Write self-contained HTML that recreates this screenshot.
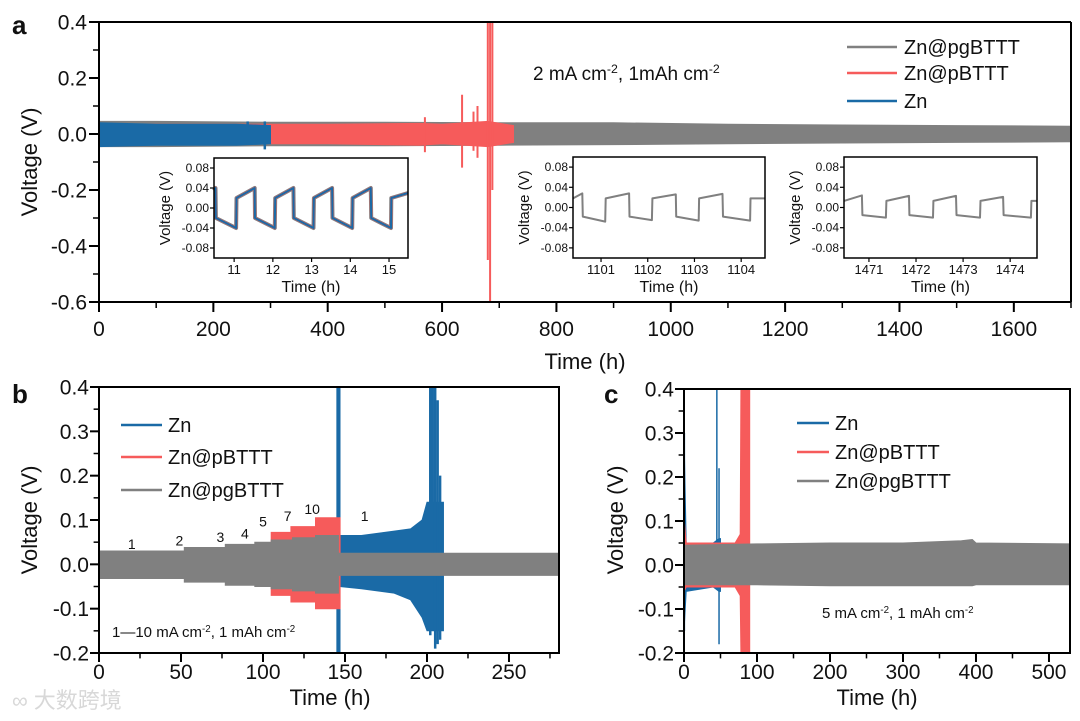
<!DOCTYPE html>
<html><head><meta charset="utf-8">
<style>
html,body{margin:0;padding:0;background:#fff;}
svg{display:block;font-family:"Liberation Sans","Noto Sans CJK SC",sans-serif;}
</style></head>
<body>
<svg id="fig" width="1080" height="721" viewBox="0 0 1080 721" xmlns="http://www.w3.org/2000/svg"></svg>
<script>
// ---------- Panel a data ----------
const aGrayT  = [0, 100, 300, 500, 700, 900, 1100, 1300, 1500, 1700];
const aGrayHi = [0.045, 0.045, 0.042, 0.042, 0.04, 0.04, 0.035, 0.032, 0.03, 0.028];
const aGrayLo = [-0.045, -0.045, -0.042, -0.042, -0.04, -0.038, -0.035, -0.032, -0.03, -0.028];
const aRedT  = [0, 200, 400, 560, 600, 680, 725];
const aRedHi = [0.035, 0.035, 0.035, 0.038, 0.035, 0.045, 0.03];
const aRedLo = [-0.035, -0.035, -0.035, -0.04, -0.035, -0.045, -0.03];
const aRedSpikeT  = [570, 635, 655, 662, 680, 684, 688];
const aRedSpikeHi = [0.06, 0.14, 0.08, 0.1, 0.4, 0.4, 0.4];
const aRedSpikeLo = [-0.065, -0.12, -0.06, -0.085, -0.45, -0.6, -0.2];
const aBlueT  = [0, 100, 240, 300];
const aBlueHi = [0.04, 0.035, 0.035, 0.03];
const aBlueLo = [-0.045, -0.04, -0.04, -0.035];
const aBlueSpikeT  = [220, 260, 290];
const aBlueSpikeHi = [0.03, 0.045, 0.045];
const aBlueSpikeLo = [-0.04, -0.035, -0.055];
const aXTicks = [0, 200, 400, 600, 800, 1000, 1200, 1400, 1600];
const aYTicks = [0.4, 0.2, 0.0, -0.2, -0.4, -0.6];
const aYLabels = ["0.4", "0.2", "0.0", "-0.2", "-0.4", "-0.6"];
// insets
const i1T = [10.48,10.52,10.53,11.05,11.06,11.53,11.54,12.05,12.06,12.53,12.54,13.05,13.06,13.53,13.54,14.05,14.06,14.53,14.54,15.05,15.06,15.49];
const i1V = [0.035,0.04,-0.02,-0.04,0.02,0.04,-0.02,-0.04,0.02,0.04,-0.02,-0.04,0.02,0.04,-0.02,-0.04,0.02,0.04,-0.02,-0.04,0.02,0.03];
const i2T = [1100.4,1100.6,1100.61,1101.09,1101.1,1101.6,1101.61,1102.09,1102.1,1102.6,1102.61,1103.09,1103.1,1103.6,1103.61,1104.19,1104.2,1104.51];
const i2V = [0.018,0.028,-0.018,-0.028,0.018,0.028,-0.018,-0.025,0.018,0.026,-0.018,-0.026,0.018,0.027,-0.018,-0.026,0.018,0.018];
const i3T = [1470.47,1470.85,1470.86,1471.36,1471.37,1471.85,1471.86,1472.36,1472.37,1472.85,1472.86,1473.36,1473.37,1473.85,1473.86,1474.44,1474.45,1474.57];
const i3V = [0.013,0.024,-0.015,-0.02,0.013,0.023,-0.015,-0.02,0.013,0.023,-0.015,-0.02,0.013,0.021,-0.015,-0.02,0.013,0.013];
const insetYTicks = [0.08, 0.04, 0.0, -0.04, -0.08];
const insetYLabels = ["0.08", "0.04", "0.00", "-0.04", "-0.08"];
const i1XTicks = [11, 12, 13, 14, 15];
const i2XTicks = [1101, 1102, 1103, 1104];
const i3XTicks = [1471, 1472, 1473, 1474];

// ---------- Panel b data ----------
const bGrayT  = [0,52,52,77,77,95,95,105,105,118,118,132,132,146,146,280.5];
const bGrayHi = [0.03,0.03,0.038,0.038,0.045,0.045,0.05,0.05,0.055,0.055,0.06,0.06,0.065,0.065,0.025,0.025];
const bGrayLo = [-0.032,-0.032,-0.04,-0.04,-0.047,-0.047,-0.05,-0.05,-0.055,-0.055,-0.06,-0.06,-0.065,-0.065,-0.025,-0.025];
const bRedT  = [105,105,117,117,132,132,147,147,280.5];
const bRedHi = [0.05,0.072,0.072,0.085,0.085,0.105,0.105,0.02,0.02];
const bRedLo = [-0.05,-0.07,-0.07,-0.085,-0.085,-0.1,-0.1,-0.02,-0.02];
const bBlueT  = [147,160,180,190,197,200,210];
const bBlueHi = [0.065,0.065,0.075,0.08,0.1,0.14,0.14];
const bBlueLo = [-0.05,-0.055,-0.065,-0.08,-0.12,-0.15,-0.15];
const bBlueSpikeT  = [145.5,146.5,202,203.5,205,206.5,208,209.5];
const bBlueSpikeHi = [0.4,0.4,0.4,0.4,0.4,0.37,0.2,0.14];
const bBlueSpikeLo = [-0.2,-0.2,-0.16,-0.15,-0.19,-0.18,-0.17,-0.15];
const bXTicks = [0, 50, 100, 150, 200, 250];
const bYTicks = [0.4, 0.3, 0.2, 0.1, 0.0, -0.1, -0.2];
const bYLabels = ["0.4","0.3","0.2","0.1","0.0","-0.1","-0.2"];
const bRateLabels = ["1","2","3","4","5","7","10","1"];
const bRateT = [20, 49, 74, 89, 100, 115, 130, 162];
const bRateV = [0.035, 0.043, 0.05, 0.058, 0.085, 0.098, 0.114, 0.098];

// ---------- Panel c data ----------
const cGrayT  = [0,100,200,300,380,395,400,529];
const cGrayHi = [0.045,0.048,0.05,0.05,0.055,0.058,0.05,0.048];
const cGrayLo = [-0.045,-0.045,-0.047,-0.047,-0.047,-0.047,-0.045,-0.045];
const cRedT  = [0,3,70,77,78,89,90];
const cRedHi = [0.11,0.05,0.05,0.07,0.4,0.4,0.4];
const cRedLo = [-0.06,-0.05,-0.05,-0.07,-0.2,-0.2,-0.2];
const cBlueT  = [0,3,40,48,50];
const cBlueHi = [0.3,0.05,0.05,0.06,0.06];
const cBlueLo = [-0.15,-0.06,-0.05,-0.06,-0.06];
const cBlueSpikeT  = [0.5, 45, 48];
const cBlueSpikeHi = [0.3, 0.4, 0.22];
const cBlueSpikeLo = [-0.15, -0.05, -0.18];
const cXTicks = [0, 100, 200, 300, 400, 500];
const cYTicks = [0.4, 0.3, 0.2, 0.1, 0.0, -0.1, -0.2];
const cYLabels = ["0.4","0.3","0.2","0.1","0.0","-0.1","-0.2"];

const GRAY = "#808080", RED = "#f65b5b", BLUE = "#1a6aa6";
const NS = "http://www.w3.org/2000/svg";
const svg = document.getElementById("fig");

function el(tag, attrs, parent) {
  const e = document.createElementNS(NS, tag);
  for (const k in attrs) e.setAttribute(k, attrs[k]);
  (parent || svg).appendChild(e);
  return e;
}
function scale(d0, d1, r0, r1) { return v => r0 + (v - d0) / (d1 - d0) * (r1 - r0); }
function txt(x, y, s, size, anchor, parent, extra) {
  const t = el("text", Object.assign({x: x, y: y, "font-size": size, "text-anchor": anchor || "start", fill: "#111"}, extra || {}), parent);
  t.textContent = s;
  return t;
}
function band(g, sx, sy, T, Hi, Lo, color) {
  let d = "M" + T.map((t, i) => sx(t).toFixed(1) + "," + sy(Hi[i]).toFixed(1)).join(" L");
  for (let i = T.length - 1; i >= 0; i--) d += " L" + sx(T[i]).toFixed(1) + "," + sy(Lo[i]).toFixed(1);
  d += " Z";
  const p = el("path", {d: d, fill: color, stroke: color, "stroke-width": 1}, g);
  return p;
}
function spikes(g, sx, sy, T, Hi, Lo, color, w) {
  T.forEach((t, i) => {
    const l = el("line", {x1: sx(t), x2: sx(t), y1: sy(Hi[i]), y2: sy(Lo[i]), stroke: color, "stroke-width": w || 1.5}, g);
    
    
  });
}
function frame(g, L, R, T, B, sw) {
  el("rect", {x: L, y: T, width: R - L, height: B - T, fill: "none", stroke: "#000", "stroke-width": sw || 2}, g);
}
function xTicks(g, sx, ticks, minorStep, xmax, B, size, fs, labelDy) {
  for (let v = 0; v <= xmax + 1e-9; v += minorStep) {
    el("line", {x1: sx(v), x2: sx(v), y1: B, y2: B + size * 0.6, stroke: "#000", "stroke-width": 1.5}, g);
  }
  ticks.forEach(v => {
    el("line", {x1: sx(v), x2: sx(v), y1: B, y2: B + size, stroke: "#000", "stroke-width": 2}, g);
    const t = txt(sx(v), B + labelDy, String(v), fs, "middle", g);
    
    
  });
}
function yTicks(g, sy, ticks, labels, minorVals, L, size, fs, gap) {
  minorVals.forEach(v => el("line", {x1: L - size * 0.6, x2: L, y1: sy(v), y2: sy(v), stroke: "#000", "stroke-width": 1.5}, g));
  ticks.forEach((v, i) => {
    el("line", {x1: L - size, x2: L, y1: sy(v), y2: sy(v), stroke: "#000", "stroke-width": 2}, g);
    const t = txt(L - size - gap, sy(v) + fs * 0.36, labels[i], fs, "end", g);
    
    
  });
}
function legend(g, x1, x2, tx, ys, names, colors, fs) {
  names.forEach((n, i) => {
    const l = el("line", {x1: x1, x2: x2, y1: ys[i], y2: ys[i], stroke: colors[i], "stroke-width": 2.5}, g);
    
    
    const t = txt(tx, ys[i] + fs * 0.36, n, fs, "start", g);
    
    
  });
}
function supText(g, x, y, parts, fs, anchor) {
  const t = el("text", {x: x, y: y, "font-size": fs, "text-anchor": anchor || "start", fill: "#111"}, g);
  parts.forEach(p => {
    const s = document.createElementNS(NS, "tspan");
    if (p[1]) { s.setAttribute("baseline-shift", "super"); s.setAttribute("font-size", fs * 0.65); }
    s.textContent = p[0];
    t.appendChild(s);
  });
  return t;
}
function inset(g, L, R, T, B, xmin, xmax, xt, series, name) {
  const ig = el("g", {}, g);
  
  
  el("rect", {x: L, y: T, width: R - L, height: B - T, fill: "#fff"}, ig);
  const sx = scale(xmin, xmax, L, R), sy = scale(-0.1, 0.1, B, T);
  series.forEach(s => {
    const p = el("polyline", {points: s.T.map((t, i) => sx(t).toFixed(1) + "," + sy(s.V[i]).toFixed(1)).join(" "), fill: "none", stroke: s.c, "stroke-width": s.w, "stroke-linejoin": "round"}, ig);
    
    
  });
  frame(ig, L, R, T, B, 1.5);
  xt.forEach(v => {
    el("line", {x1: sx(v), x2: sx(v), y1: B, y2: B + 4, stroke: "#000", "stroke-width": 1.2}, ig);
    txt(sx(v), B + 16, String(v), 13, "middle", ig);
  });
  insetYTicks.forEach((v, i) => {
    el("line", {x1: L - 4, x2: L, y1: sy(v), y2: sy(v), stroke: "#000", "stroke-width": 1.2}, ig);
    txt(L - 5, sy(v) + 4, insetYLabels[i], 12, "end", ig);
  });
  const xt2 = txt((L + R) / 2, B + 34, "Time (h)", 16, "middle", ig);
  
  
  const yt = txt(0, 0, "Voltage (V)", 15, "middle", ig, {transform: `translate(${L - 44},${(T + B) / 2}) rotate(-90)`});
  
  
}

// ================= Panel a =================
(function () {
  const g = el("g", {});
  
  
  const L = 99, R = 1071, T = 22, B = 302;
  const sx = scale(0, 1700, L, R), sy = scale(-0.6, 0.4, B, T);
  const gg = band(g, sx, sy, aGrayT, aGrayHi, aGrayLo, GRAY);
  
  
  const rr = band(g, sx, sy, aRedT, aRedHi, aRedLo, RED);
  
  
  spikes(g, sx, sy, aRedSpikeT, aRedSpikeHi, aRedSpikeLo, RED, 2);
  const bb = band(g, sx, sy, aBlueT, aBlueHi, aBlueLo, BLUE);
  
  
  spikes(g, sx, sy, aBlueSpikeT, aBlueSpikeHi, aBlueSpikeLo, BLUE, 2.5);
  el("line", {x1: L, x2: R, y1: T, y2: T, stroke: "#000", "stroke-width": 2}, g);
  el("line", {x1: R, x2: R, y1: T, y2: B, stroke: "#000", "stroke-width": 2}, g);
  el("line", {x1: L, x2: L, y1: T, y2: B, stroke: "#000", "stroke-width": 2}, g);
  el("line", {x1: L, x2: R, y1: B, y2: B, stroke: "#000", "stroke-width": 2}, g);
  xTicks(g, sx, aXTicks, 100, 1700, B, 10, 21, 34);
  yTicks(g, sy, aYTicks, aYLabels, [0.3, 0.1, -0.1, -0.3, -0.5], L, 10, 21, 2);
  const xt = txt(585, 369, "Time (h)", 22, "middle", g);
  
  
  const yt = txt(0, 0, "Voltage (V)", 22, "middle", g, {transform: "translate(37,162) rotate(-90)"});
  
  
  const pl = txt(12, 34, "a", 26, "start", g, {"font-weight": "bold"});
  
  
  const an = supText(g, 533, 80, [["2 mA cm"], ["-2", 1], [", 1mAh cm"], ["-2", 1]], 19);
  
  
  const lg = el("g", {}, g);
  
  
  legend(lg, 847, 897, 904, [47, 73, 101], ["Zn@pgBTTT", "Zn@pBTTT", "Zn"], [GRAY, RED, BLUE], 20);
  inset(g, 214, 408, 158, 258, 10.48, 15.49, i1XTicks,
    [{T: i1T, V: i1V, c: GRAY, w: 4}, {T: i1T, V: i1V, c: RED, w: 2.5}, {T: i1T, V: i1V, c: BLUE, w: 2}], "inset-early-cycles");
  inset(g, 573, 765, 157, 258, 1100.4, 1104.51, i2XTicks, [{T: i2T, V: i2V, c: GRAY, w: 2}], "inset-1100h");
  inset(g, 844, 1037, 157, 258, 1470.47, 1474.57, i3XTicks, [{T: i3T, V: i3V, c: GRAY, w: 2}], "inset-1470h");
})();

// ================= Panel b =================
(function () {
  const g = el("g", {});
  
  
  const L = 99, R = 559, T = 387, B = 653;
  const sx = scale(0, 280.5, L, R), sy = scale(-0.2, 0.4, B, T);
  const cp = el("clipPath", {id: "clipb"}, g);
  el("rect", {x: L, y: T, width: R - L, height: B - T}, cp);
  const pg = el("g", {"clip-path": "url(#clipb)"}, g);
  const bb = band(pg, sx, sy, bBlueT, bBlueHi, bBlueLo, BLUE);
  
  
  spikes(pg, sx, sy, bBlueSpikeT, bBlueSpikeHi, bBlueSpikeLo, BLUE, 2.5);
  const rr = band(pg, sx, sy, bRedT, bRedHi, bRedLo, RED);
  
  
  const gg = band(pg, sx, sy, bGrayT, bGrayHi, bGrayLo, GRAY);
  
  
  frame(g, L, R, T, B, 2);
  xTicks(g, sx, bXTicks, 25, 280, B, 9, 21, 26);
  yTicks(g, sy, bYTicks, bYLabels, [0.35, 0.25, 0.15, 0.05, -0.05, -0.15], L, 9, 21, 1);
  bRateLabels.forEach((s, i) => {
    const t = txt(sx(bRateT[i]), sy(bRateV[i]), s, 14, "middle", g);
    
    
  });
  const xt = txt(330, 705, "Time (h)", 22, "middle", g);
  
  
  const yt = txt(0, 0, "Voltage (V)", 22, "middle", g, {transform: "translate(37,520) rotate(-90)"});
  
  
  const pl = txt(12, 403, "b", 26, "start", g, {"font-weight": "bold"});
  
  
  const an = supText(g, 112, 637, [["1—10 mA cm"], ["-2", 1], [", 1 mAh cm"], ["-2", 1]], 15);
  
  
  const lg = el("g", {}, g);
  
  
  legend(lg, 121, 162, 168, [425, 457, 490], ["Zn", "Zn@pBTTT", "Zn@pgBTTT"], [BLUE, RED, GRAY], 20);
})();

// ================= Panel c =================
(function () {
  const g = el("g", {});
  
  
  const L = 684, R = 1070, T = 389, B = 653;
  const sx = scale(0, 528.8, L, R), sy = scale(-0.2, 0.4, B, T);
  const cp = el("clipPath", {id: "clipc"}, g);
  el("rect", {x: L, y: T, width: R - L, height: B - T}, cp);
  const pg = el("g", {"clip-path": "url(#clipc)"}, g);
  const bb = band(pg, sx, sy, cBlueT, cBlueHi, cBlueLo, BLUE);
  
  
  spikes(pg, sx, sy, cBlueSpikeT, cBlueSpikeHi, cBlueSpikeLo, BLUE, 1.5);
  const rr = band(pg, sx, sy, cRedT, cRedHi, cRedLo, RED);
  
  
  const gg = band(pg, sx, sy, cGrayT, cGrayHi, cGrayLo, GRAY);
  
  
  frame(g, L, R, T, B, 2);
  xTicks(g, sx, cXTicks, 50, 528, B, 9, 21, 26);
  yTicks(g, sy, cYTicks, cYLabels, [0.35, 0.25, 0.15, 0.05, -0.05, -0.15], L, 9, 21, 1);
  const xt = txt(877, 705, "Time (h)", 22, "middle", g);
  
  
  const yt = txt(0, 0, "Voltage (V)", 22, "middle", g, {transform: "translate(623,520) rotate(-90)"});
  
  
  const pl = txt(604, 403, "c", 26, "start", g, {"font-weight": "bold"});
  
  
  const an = supText(g, 822, 618, [["5 mA cm"], ["-2", 1], [", 1 mAh cm"], ["-2", 1]], 15);
  
  
  const lg = el("g", {}, g);
  
  
  legend(lg, 797, 829, 835, [423, 452, 481], ["Zn", "Zn@pBTTT", "Zn@pgBTTT"], [BLUE, RED, GRAY], 20);
})();

// watermark
const wm = txt(12, 708, "∞ 大数跨境", 22, "start", svg, {fill: "#d8d8d8"});


</script>
</body></html>
